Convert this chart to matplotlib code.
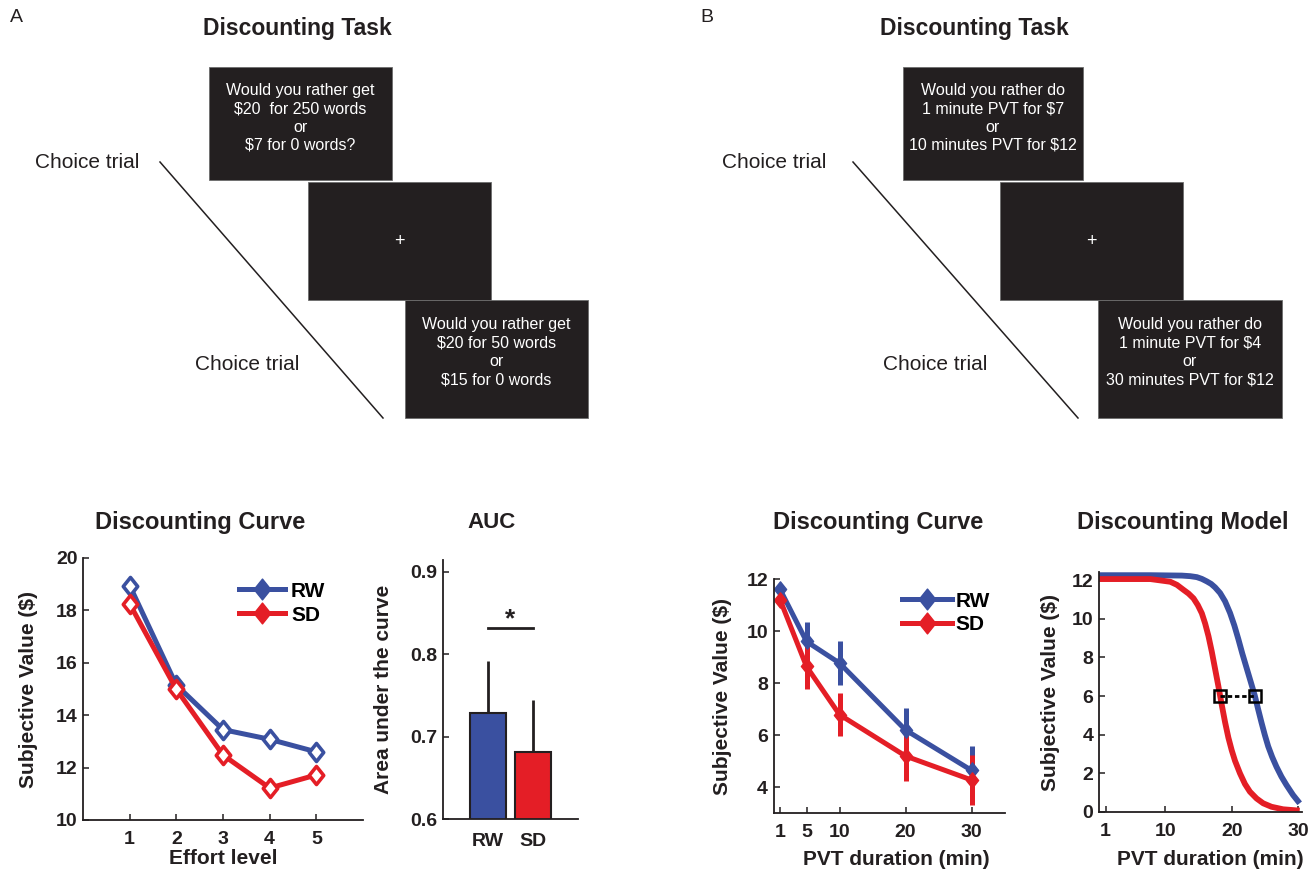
import matplotlib
matplotlib.use("Agg")
import matplotlib.pyplot as plt
from matplotlib.patches import Rectangle
from matplotlib.lines import Line2D
from matplotlib.path import Path

plt.rcParams['font.family'] = ['Liberation Sans', 'DejaVu Sans']
plt.rcParams['font.weight'] = 'bold'
plt.rcParams['axes.labelweight'] = 'bold'

# ---------------- data ----------------
effort_levels = [1, 2, 3, 4, 5]
effort_rw = [18.95, 15.15, 13.45, 13.08, 12.6]
effort_sd = [18.25, 14.99, 12.48, 11.22, 11.72]

auc_groups = ['RW', 'SD']
auc_means = [0.729, 0.681]
auc_err = [0.063, 0.064]
sig_y = 0.832

pvt_durations = [1, 5, 10, 20, 30]
pvt_rw = [11.6, 9.6, 8.77, 6.2, 4.65]
pvt_rw_err = [0.15, 0.76, 0.83, 0.84, 0.93]
pvt_sd = [11.2, 8.64, 6.79, 5.2, 4.28]
pvt_sd_err = [0.15, 0.88, 0.83, 0.95, 0.95]

model_x_rw = [0, 7.75, 12.5, 13.75, 14.75, 15.5, 16.25, 16.9, 17.5, 18.25, 19.0, 19.75,
              20.4, 21.0, 21.6, 22.25, 22.9, 23.5, 24.0, 24.5, 25.0, 25.5, 26.1, 26.75,
              27.5, 28.25, 29.25, 30.25]
model_rw = [12.25, 12.25, 12.23, 12.2, 12.15, 12.06, 11.93, 11.8, 11.62, 11.33, 10.9, 10.3,
            9.65, 8.95, 8.2, 7.45, 6.7, 6.0, 5.3, 4.62, 3.98, 3.4, 2.85, 2.34,
            1.83, 1.40, 0.88, 0.45]
model_x_sd = [0, 7.75, 10.75, 11.75, 12.75, 13.5, 14.25, 14.9, 15.5, 16.0, 16.5, 17.0,
              17.5, 18.0, 18.5, 19.0, 19.5, 20.0, 20.5, 21.25, 22.0, 22.75, 23.75, 24.75,
              26.0, 27.75, 30.25]
model_sd = [12.05, 12.05, 11.91, 11.75, 11.49, 11.3, 11.05, 10.7, 10.28, 9.75, 9.1, 8.3,
            7.4, 6.5, 5.55, 4.65, 3.85, 3.2, 2.65, 2.0, 1.45, 1.05, 0.7, 0.45,
            0.27, 0.14, 0.07]
indiff_x = [18.25, 23.5]
indiff_y = [6, 6]

task_a_box1 = ["Would you rather get", "$20  for 250 words", "or", "$7 for 0 words?"]
task_a_box3 = ["Would you rather get", "$20 for 50 words", "or", "$15 for 0 words"]
task_b_box1 = ["Would you rather do", "1 minute PVT for $7", "or", "10 minutes PVT for $12"]
task_b_box3 = ["Would you rather do", "1 minute PVT for $4", "or", "30 minutes PVT for $12"]

# ---------------- style ----------------
BLUE = '#3A50A0'
RED = '#E41E26'
DARK = '#231F20'
W, H = 1315, 873

fig = plt.figure(figsize=(W / 100, H / 100), dpi=100)
fig.patch.set_facecolor('white')

# schematic layer in pixel coordinates
sch = fig.add_axes([0, 0, 1, 1])
sch.set_xlim(0, W)
sch.set_ylim(H, 0)
sch.axis('off')


def draw_task(dx, boxes, texts1, texts3, diag, choice1, choice2, title_x, letter):
    sch.text(dx + 10, 17, letter, fontsize=14, fontweight='normal', color=DARK,
             ha='left', va='center')
    sch.text(title_x, 29, "Discounting Task", fontsize=16.5, fontweight='bold',
             color=DARK, ha='center', va='center')
    for (x0, y0, bw, bh) in boxes:
        sch.add_patch(Rectangle((x0, y0), bw, bh, facecolor=DARK, edgecolor='#6d6d6d',
                                lw=0.6))
    b1, b2, b3 = boxes
    for i, line in enumerate(texts1):
        sch.text(b1[0] + b1[2] / 2, 91 + 18 * i, line, color='white', fontsize=11.5,
                 fontweight='normal', ha='center', va='center', parse_math=False)
    sch.text(b2[0] + b2[2] / 2, 242, "+", color='white', fontsize=13,
             fontweight='normal', ha='center', va='center')
    for i, line in enumerate(texts3):
        sch.text(b3[0] + b3[2] / 2, 325 + 18.3 * i, line, color='white', fontsize=11.5,
                 fontweight='normal', ha='center', va='center', parse_math=False)
    sch.plot([diag[0], diag[2]], [diag[1], diag[3]], color=DARK, lw=1.1)
    sch.text(choice1[0], choice1[1], "Choice trial", fontsize=15, fontweight='normal',
             color=DARK, ha='left', va='center')
    sch.text(choice2[0], choice2[1], "Choice trial", fontsize=15, fontweight='normal',
             color=DARK, ha='left', va='center')


draw_task(0, [(209, 67, 183, 113), (308, 182, 183, 118), (405, 300, 183, 118)],
          task_a_box1, task_a_box3, (160, 162, 383, 418), (35, 162), (195, 365), 297, "A")
draw_task(690, [(903, 67, 180, 113), (1000, 182, 183, 118), (1098, 300, 184, 118)],
          task_b_box1, task_b_box3, (853, 162, 1078, 418), (722, 162), (883, 365), 974, "B")


def px_axes(left, top, right, bottom):
    return fig.add_axes([left / W, 1 - bottom / H, (right - left) / W, (bottom - top) / H])


def style_axes(ax, xpad=7, ypad=4):
    for s in ['top', 'right']:
        ax.spines[s].set_visible(False)
    for s in ['left', 'bottom']:
        ax.spines[s].set_linewidth(1.3)
        ax.spines[s].set_color(DARK)
    ax.tick_params(direction='in', length=4, width=1.1, colors=DARK, labelsize=14,
                   labelcolor=DARK)
    ax.tick_params(axis='x', pad=xpad)
    ax.tick_params(axis='y', pad=ypad)
    for lab in ax.get_xticklabels() + ax.get_yticklabels():
        lab.set_fontweight('bold')


diamond = Path([(0, 1), (0.8, 0), (0, -1), (-0.8, 0), (0, 1)],
               [Path.MOVETO, Path.LINETO, Path.LINETO, Path.LINETO, Path.CLOSEPOLY])

# ---------------- A: discounting curve ----------------
ax1 = px_axes(83, 558, 363, 820)
ax1.plot(effort_levels, effort_rw, color=BLUE, lw=3.6, marker=diamond, ms=13,
         mfc='white', mec=BLUE, mew=2.6, zorder=3)
ax1.plot(effort_levels, effort_sd, color=RED, lw=3.6, marker=diamond, ms=13,
         mfc='white', mec=RED, mew=2.6, zorder=3)
ax1.set_xlim(0, 6)
ax1.set_ylim(10, 20)
ax1.set_xticks(effort_levels)
ax1.set_yticks([10, 12, 14, 16, 18, 20])
style_axes(ax1, xpad=8)
ax1.set_xlabel("Effort level", fontsize=15, fontweight='bold', color=DARK)
ax1.xaxis.set_label_coords(0.5, -0.112)
ax1.set_ylabel(r"Subjective Value (\$)", fontsize=15, fontweight='bold', color=DARK)
ax1.yaxis.set_label_coords(-0.16, 0.5)
h1 = [Line2D([], [], color=BLUE, lw=3.6, marker=diamond, ms=15, mfc=BLUE, mec=BLUE),
      Line2D([], [], color=RED, lw=3.6, marker=diamond, ms=15, mfc=RED, mec=RED)]
ax1.legend(h1, auc_groups, loc='upper left', bbox_to_anchor=(0.52, 0.95), frameon=False,
           handlelength=2.2, handletextpad=0.3, labelspacing=0.25, borderpad=0,
           prop={'size': 15, 'weight': 'bold'})
fig.text(200 / W, 1 - 523 / H, "Discounting Curve", fontsize=17, fontweight='bold',
         color=DARK, ha='center', va='center')

# ---------------- A: AUC ----------------
ax2 = px_axes(443, 560, 578, 819.3)
xpos = [1, 2]
ax2.bar(xpos, auc_means, width=0.8, color=[BLUE, RED], edgecolor=DARK, lw=1.5, zorder=2)
ax2.errorbar(xpos, auc_means, yerr=[[0, 0], auc_err], fmt='none', ecolor=DARK,
             elinewidth=2, capsize=0, zorder=1)
ax2.plot(xpos, [sig_y, sig_y], color=DARK, lw=2)
ax2.text(1.5, sig_y + 0.002, "*", fontsize=19, fontweight='bold', color=DARK,
         ha='center', va='baseline')
ax2.set_xlim(0, 3)
ax2.set_ylim(0.6, 0.914)
ax2.set_xticks(xpos)
ax2.set_xticklabels(auc_groups)
ax2.set_yticks([0.6, 0.7, 0.8, 0.9])
style_axes(ax2, xpad=10)
ax2.tick_params(axis='x', length=0)
ax2.set_ylabel("Area under the curve", fontsize=15, fontweight='bold', color=DARK)
ax2.yaxis.set_label_coords(-0.37, 0.5)
fig.text(492 / W, 1 - 523 / H, "AUC", fontsize=16, fontweight='bold', color=DARK,
         ha='center', va='center')

# ---------------- B: discounting curve ----------------
ax3 = px_axes(773.5, 579, 1004.5, 813.3)
ax3.errorbar(pvt_durations, pvt_rw, yerr=pvt_rw_err, color=BLUE, lw=3.6, elinewidth=3.6,
             capsize=0, marker=diamond, ms=11, mfc=BLUE, mec=BLUE)
ax3.errorbar(pvt_durations, pvt_sd, yerr=pvt_sd_err, color=RED, lw=3.6, elinewidth=3.6,
             capsize=0, marker=diamond, ms=11, mfc=RED, mec=RED)
ax3.set_xlim(0, 35)
ax3.set_ylim(3, 12)
ax3.set_xticks(pvt_durations)
ax3.set_yticks([4, 6, 8, 10, 12])
style_axes(ax3, xpad=8)
ax3.set_xlabel("PVT duration (min)", fontsize=15, fontweight='bold', color=DARK)
ax3.xaxis.set_label_coords(0.53, -0.155)
ax3.set_ylabel(r"Subjective Value (\$)", fontsize=15, fontweight='bold', color=DARK)
ax3.yaxis.set_label_coords(-0.178, 0.5)
h3 = [Line2D([], [], color=BLUE, lw=3.6, marker=diamond, ms=15, mfc=BLUE, mec=BLUE),
      Line2D([], [], color=RED, lw=3.6, marker=diamond, ms=15, mfc=RED, mec=RED)]
ax3.legend(h3, auc_groups, loc='upper left', bbox_to_anchor=(0.51, 0.99), frameon=False,
           handlelength=2.4, handletextpad=0.2, labelspacing=0.2, borderpad=0,
           prop={'size': 15, 'weight': 'bold'})
fig.text(878 / W, 1 - 523 / H, "Discounting Curve", fontsize=17, fontweight='bold',
         color=DARK, ha='center', va='center')

# ---------------- B: discounting model ----------------
ax4 = px_axes(1099, 572.3, 1302, 812)
ax4.plot(model_x_rw, model_rw, color=BLUE, lw=4.2, solid_capstyle='butt',
         solid_joinstyle='round')
ax4.plot(model_x_sd, model_sd, color=RED, lw=4.2, solid_capstyle='butt',
         solid_joinstyle='round')
ax4.plot(indiff_x, indiff_y, color='black', lw=2, linestyle=(0, (1.6, 1.0)),
         marker='s', ms=8, mfc='none', mec='black', mew=1.8)
ax4.set_xlim(0, 30.6)
ax4.set_ylim(0, 12.4)
ax4.set_xticks([1, 10, 20, 30])
ax4.set_yticks([0, 2, 4, 6, 8, 10, 12])
style_axes(ax4, xpad=8)
ax4.set_xlabel("PVT duration (min)", fontsize=15, fontweight='bold', color=DARK)
ax4.xaxis.set_label_coords(0.55, -0.157)
ax4.set_ylabel(r"Subjective Value (\$)", fontsize=15, fontweight='bold', color=DARK)
ax4.yaxis.set_label_coords(-0.192, 0.5)
fig.text(1183 / W, 1 - 523 / H, "Discounting Model", fontsize=17, fontweight='bold',
         color=DARK, ha='center', va='center')

fig.savefig("out.png", dpi=100, facecolor='white')
